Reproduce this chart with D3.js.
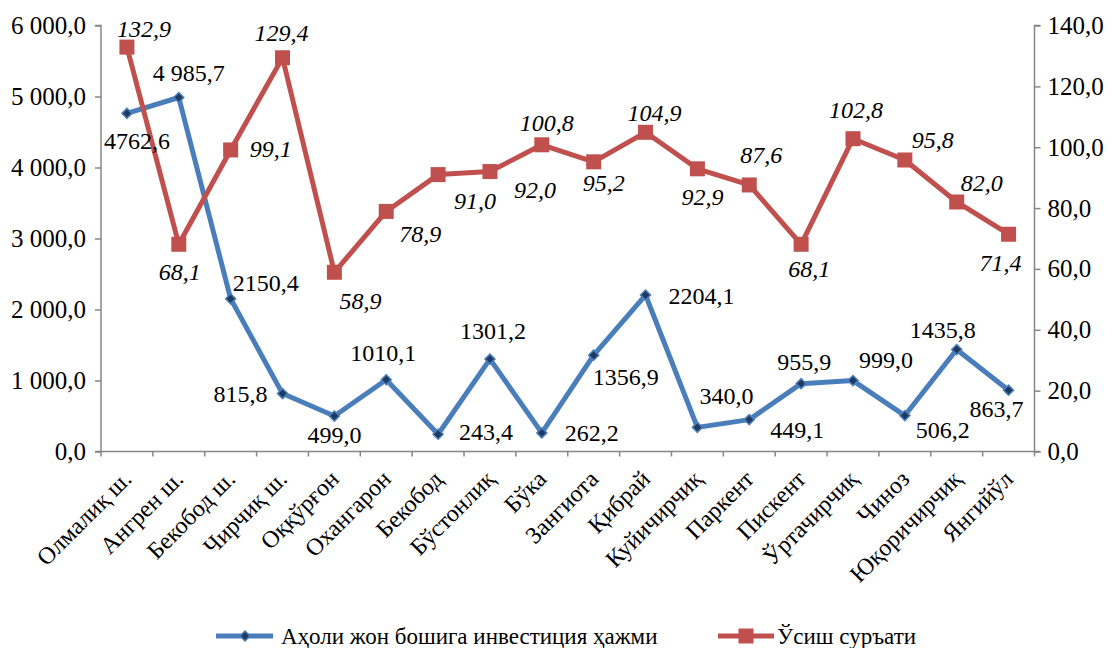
<!DOCTYPE html>
<html>
<head>
<meta charset="utf-8">
<script src="https://cdn.jsdelivr.net/npm/d3@7"></script>
<style>
  body { margin: 0; background: #fff; }
  svg text { font-family: "Liberation Serif", "DejaVu Serif", serif; fill: #000; }
</style>
</head>
<body>
<svg id="chart" width="1112" height="648" font-family="Liberation Serif"></svg>
<script>
var categories = ["Олмалиқ ш.", "Ангрен ш.", "Бекобод ш.", "Чирчиқ ш.", "Оққўрғон", "Охангарон",
  "Бекобод", "Бўстонлиқ", "Бўка", "Зангиота", "Қибрай", "Куйичирчиқ", "Паркент", "Пискент",
  "Ўртачирчиқ", "Чиноз", "Юқоричирчиқ", "Янгийўл"]
var investment = [4762.6, 4985.7, 2150.4, 815.8, 499.0, 1010.1, 243.4, 1301.2, 262.2, 1356.9,
  2204.1, 340.0, 449.1, 955.9, 999.0, 506.2, 1435.8, 863.7]
var growth = [132.9, 68.1, 99.1, 129.4, 58.9, 78.9, 91.0, 92.0, 100.8, 95.2, 104.9, 92.9, 87.6,
  68.1, 102.8, 95.8, 82.0, 71.4]
var leftTicks = [0, 1000, 2000, 3000, 4000, 5000, 6000]
var rightTicks = [0, 20, 40, 60, 80, 100, 120, 140]
var seriesNames = ["Аҳоли жон бошига инвестиция ҳажми", "Ўсиш суръати"]

// label offsets relative to each point (hand placed, like the original)
var blueLabelPos = [[10, 28], [10, -25], [35, -16], [-42, 0], [0, 19], [-3, -27], [48, -2], [3, -28],
  [50, 0], [32, 22], [56, 1], [29, -31], [48, 10], [3, -22], [33, -21], [38, 14], [-14, -20], [-12, 19]]
var redLabelPos = [[17, -18], [1, 28], [40, -1], [-1, -25], [26, 29], [34, 23], [37, 26], [45, 18],
  [5, -22], [10, 21], [9, -19], [5, 28], [12, -30], [8, 25], [3, -29], [28, -20], [25, -19], [-8, 29]]

var BLUE = "#4a7ebb", NAVY = "#1f3a5f", RED = "#c0504d", AXIS = "#868686"
var FONT = 25
var SERIF = "'Liberation Serif', 'DejaVu Serif', serif"

var margin = { left: 101, right: 1034.5, top: 25.5, bottom: 451.5 }
var svg = d3.select("#chart")

var x = d3.scaleBand().domain(categories).range([margin.left, margin.right])
var yL = d3.scaleLinear().domain([0, 6000]).range([margin.bottom, margin.top])
var yR = d3.scaleLinear().domain([0, 140]).range([margin.bottom, margin.top])
var cx = function(d, i) { return x(categories[i]) + x.bandwidth() / 2 }

var fmt = function(v, spaced) {
  var s = v.toFixed(1).replace(".", ",")
  if (spaced) {
    var parts = s.split(",")
    parts[0] = parts[0].replace(/\B(?=(\d{3})+(?!\d))/g, " ")
    s = parts.join(",")
  }
  return s
}

// axes
var leftAxis = d3.axisLeft(yL).tickValues(leftTicks).tickSize(6).tickFormat(function(d) { return fmt(d, true) })
var rightAxis = d3.axisRight(yR).tickValues(rightTicks).tickSize(6).tickFormat(function(d) { return fmt(d) })
var bottomAxis = d3.axisBottom(x).tickSize(0).tickFormat("")

function styleAxis(g) {
  g.attr("font-family", SERIF)
  g.selectAll("path, line").attr("stroke", AXIS).attr("stroke-width", 1.5)
  g.selectAll("text").style("font-size", FONT + "px").attr("fill", "#000")
}

svg.append("g").attr("transform", "translate(" + margin.left + ",0)").call(leftAxis).call(styleAxis)
  .call(function(g) { g.select(".domain").attr("d", "M-6," + margin.top + "H0V" + margin.bottom + "H-6") })
  .selectAll("text").attr("x", -15)
svg.append("g").attr("transform", "translate(" + margin.right + ",0)").call(rightAxis).call(styleAxis)
  .call(function(g) { g.select(".domain").attr("d", "M6," + margin.top + "H0V" + margin.bottom + "H6") })
  .selectAll("text").attr("x", 13)
var bx = svg.append("g").attr("transform", "translate(0," + margin.bottom + ")").call(bottomAxis)
bx.select(".domain").attr("d", "M" + margin.left + ",0H" + margin.right)
  .attr("stroke", AXIS).attr("stroke-width", 1.5)
bx.selectAll(".tickmark")
  .data(categories.concat(["end"]))
  .enter().append("line")
  .attr("stroke", AXIS).attr("stroke-width", 1.5)
  .attr("x1", function(d, i) { return margin.left + i * x.step() })
  .attr("x2", function(d, i) { return margin.left + i * x.step() })
  .attr("y1", 0).attr("y2", 5)

// category labels
svg.append("g").selectAll("text")
  .data(categories)
  .enter().append("text")
  .attr("text-anchor", "end")
  .attr("font-size", "24px")
  .attr("transform", function(d) {
    return "translate(" + (x(d) + x.bandwidth() / 2 + 6) + "," + (margin.bottom + 29) + ") rotate(-45)"
  })
  .text(function(d) { return d })

// lines
var lineL = d3.line().x(cx).y(function(d) { return yL(d) })
var lineR = d3.line().x(cx).y(function(d) { return yR(d) })

svg.append("path").datum(investment)
  .attr("fill", "none").attr("stroke", BLUE).attr("stroke-width", 5)
  .attr("stroke-linejoin", "round").attr("d", lineL)
svg.append("path").datum(growth)
  .attr("fill", "none").attr("stroke", RED).attr("stroke-width", 5)
  .attr("stroke-linejoin", "round").attr("d", lineR)

// markers
var diamond = d3.symbol().type(d3.symbolDiamond2).size(64)
svg.append("g").selectAll("path")
  .data(investment)
  .enter().append("path")
  .attr("d", diamond)
  .attr("fill", NAVY).attr("stroke", BLUE).attr("stroke-width", 1.5)
  .attr("transform", function(d, i) { return "translate(" + cx(d, i) + "," + yL(d) + ")" })

svg.append("g").selectAll("rect")
  .data(growth)
  .enter().append("rect")
  .attr("fill", RED)
  .attr("width", 15).attr("height", 15)
  .attr("x", function(d, i) { return cx(d, i) - 7.5 })
  .attr("y", function(d) { return yR(d) - 7.5 })

// data labels
svg.append("g").selectAll("text")
  .data(investment)
  .enter().append("text")
  .attr("text-anchor", "middle").attr("dominant-baseline", "central")
  .attr("font-size", "24px")
  .attr("x", function(d, i) { return cx(d, i) + blueLabelPos[i][0] })
  .attr("y", function(d, i) { return yL(d) + blueLabelPos[i][1] })
  .text(function(d, i) { return i == 1 ? fmt(d, true) : fmt(d) })

svg.append("g").selectAll("text")
  .data(growth)
  .enter().append("text")
  .attr("text-anchor", "middle").attr("dominant-baseline", "central")
  .attr("font-size", "24px").attr("font-style", "italic")
  .attr("x", function(d, i) { return cx(d, i) + redLabelPos[i][0] })
  .attr("y", function(d, i) { return yR(d) + redLabelPos[i][1] })
  .text(function(d) { return fmt(d) })

// legend
var legend = svg.append("g").attr("transform", "translate(0,636)")
legend.append("line").attr("x1", 216).attr("x2", 273).attr("stroke", BLUE).attr("stroke-width", 5)
legend.append("path").attr("d", diamond).attr("fill", NAVY).attr("stroke", BLUE)
  .attr("stroke-width", 1.5).attr("transform", "translate(245,0)")
legend.append("text").attr("x", 281).attr("dominant-baseline", "central").attr("font-size", "23px").text(seriesNames[0])
legend.append("line").attr("x1", 718).attr("x2", 774).attr("stroke", RED).attr("stroke-width", 5)
legend.append("rect").attr("x", 738.5).attr("y", -7.5).attr("width", 15).attr("height", 15).attr("fill", RED)
legend.append("text").attr("x", 777).attr("dominant-baseline", "central").attr("font-size", "23px").text(seriesNames[1])
</script>
</body>
</html>
